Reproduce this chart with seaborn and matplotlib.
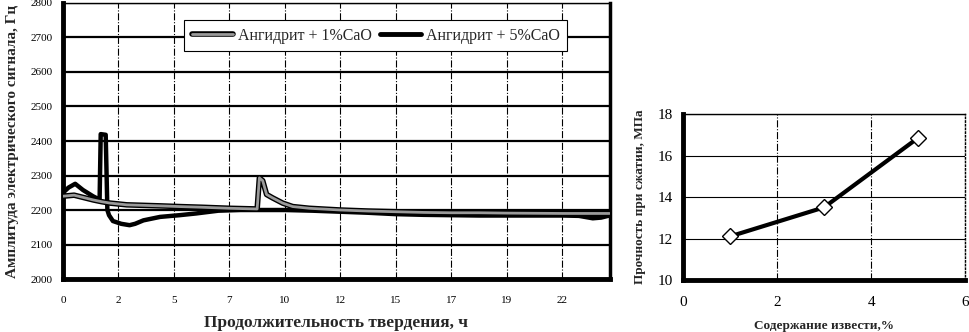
"""
Амплитуда электрического сигнала и прочность ангидрита с добавкой CaO
"""
import matplotlib
matplotlib.use("Agg")
import matplotlib.pyplot as plt
import matplotlib.patheffects as pe
from matplotlib.lines import Line2D
import seaborn as sns
import pandas as pd

sns.set_theme(style="white")
plt.rcParams['font.family'] = ['Liberation Serif', 'DejaVu Serif']

# левый график: ось x в единицах делений (подписи - часы)
x_tick_labels = ['0', '2', '5', '7', '10', '12', '15', '17', '19', '22']
y_ticks_left = [2000, 2100, 2200, 2300, 2400, 2500, 2600, 2700, 2800]

# Ангидрит + 1%CaO
t_1 = [0.0, 0.2, 0.55, 0.7, 0.85, 1.15, 1.75, 2.1, 2.5, 3.0, 3.5, 3.54, 3.6,
       3.67, 3.78, 3.96, 4.14, 4.44, 5.0, 5.5, 6.0, 6.5, 7.0, 7.5, 8.0, 9.0, 9.85]
a_1 = [2240, 2243, 2229, 2224, 2220, 2215, 2212, 2210, 2208, 2205, 2203, 2293, 2285,
       2245, 2235, 2220, 2210, 2205, 2200, 2197, 2195, 2193, 2192, 2192, 2191, 2190, 2190]

# Ангидрит + 5%CaO
t_5 = [0.0, 0.1, 0.22, 0.36, 0.54, 0.66, 0.68, 0.77, 0.8, 0.83, 0.9, 1.05, 1.2,
       1.3, 1.45, 1.75, 2.1, 2.4, 2.8, 3.2, 3.6, 4.0, 4.5, 5.0, 5.5, 6.0, 6.5,
       7.0, 7.5, 8.0, 9.0, 9.3, 9.55, 9.7, 9.85]
a_5 = [2250, 2265, 2276, 2258, 2240, 2230, 2420, 2418, 2200, 2185, 2168, 2160, 2156,
       2160, 2170, 2180, 2185, 2190, 2198, 2200, 2200, 2200, 2198, 2195, 2192, 2188, 2186,
       2185, 2184, 2184, 2184, 2183, 2176, 2178, 2184]

# правый график
lime = [1, 3, 5]
strength = [12.1, 13.5, 16.85]

df1 = pd.DataFrame({'t': t_1, 'a': a_1})
df5 = pd.DataFrame({'t': t_5, 'a': a_5})
dfs = pd.DataFrame({'c': lime, 's': strength})

fig = plt.figure(figsize=(9.69, 3.32), dpi=100)
ax = fig.add_axes([0.065, 0.1596, 0.5645, 0.8314])
ax2 = fig.add_axes([0.7048, 0.1566, 0.2912, 0.5])

# --- левый график ---
sns.lineplot(data=df5, x='t', y='a', ax=ax, color='black', lw=3.2,
             estimator=None, sort=False, zorder=3)
sns.lineplot(data=df1, x='t', y='a', ax=ax, color='#9a9a9a', lw=2.0,
             estimator=None, sort=False, zorder=4,
             path_effects=[pe.Stroke(linewidth=4.0, foreground='black'), pe.Normal()])

ax.set_xlim(0, 9.86)
ax.set_ylim(2000, 2800)
ax.set_xticks(range(len(x_tick_labels)))
ax.set_xticklabels(x_tick_labels)
ax.set_yticks(y_ticks_left)
ax.tick_params(axis='both', labelsize=8, length=3, width=2, direction='inout',
               colors='black', pad=6)
ax.tick_params(axis='x', pad=11)
ax.yaxis.grid(True, color='black', lw=1.6)
ax.xaxis.grid(True, color='black', lw=0.8, linestyle='-.')
ax.set_axisbelow(True)
for s in ['left', 'bottom']:
    ax.spines[s].set_linewidth(3.5)
ax.spines['right'].set_linewidth(2.5)
ax.spines['top'].set_linewidth(1.0)
for s in ax.spines.values():
    s.set_color('black')
ax.set_xlabel('Продолжительность твердения, ч', fontsize=12.5,
              fontweight='bold', labelpad=7)
ax.set_ylabel('Амплитуда электрического сигнала, Гц', fontsize=11,
              fontweight='bold', labelpad=8)

handles = [
    Line2D([], [], color='#9a9a9a', lw=2.0,
           path_effects=[pe.Stroke(linewidth=4.0, foreground='black'), pe.Normal()]),
    Line2D([], [], color='black', lw=3.5),
]
leg = ax.legend(handles, ['Ангидрит + 1%CaO', 'Ангидрит + 5%CaO'], ncol=2,
                loc='upper center', bbox_to_anchor=(0.572, 0.966), fontsize=11.5,
                frameon=True, fancybox=False, framealpha=1, edgecolor='black',
                handlelength=2.6, handletextpad=0.3, columnspacing=0.5,
                borderpad=0.45)
leg.get_frame().set_linewidth(0.8)

# --- правый график ---
sns.lineplot(data=dfs, x='c', y='s', ax=ax2, color='black', lw=3.0,
             marker='D', markersize=8, markerfacecolor='white',
             markeredgecolor='black', markeredgewidth=1.0, zorder=3)
ax2.set_xlim(0, 6)
ax2.set_ylim(10, 18)
ax2.set_xticks([0, 2, 4, 6])
ax2.set_yticks([10, 12, 14, 16, 18])
ax2.tick_params(axis='both', labelsize=11, length=3, width=2, direction='inout',
                colors='black', pad=6)
ax2.tick_params(axis='x', pad=10)
ax2.yaxis.grid(True, color='black', lw=0.8)
ax2.xaxis.grid(True, color='black', lw=0.8, linestyle='-.')
ax2.set_axisbelow(True)
for s in ['left', 'bottom']:
    ax2.spines[s].set_linewidth(3.5)
ax2.spines['top'].set_linewidth(1.0)
ax2.spines['right'].set_linewidth(1.0)
ax2.spines['right'].set_linestyle(':')
for s in ax2.spines.values():
    s.set_color('black')
ax2.set_xlabel('Содержание извести,%', fontsize=9.5, fontweight='bold', labelpad=8)
ax2.set_ylabel('Прочность при сжатии, МПа', fontsize=9.5, fontweight='bold',
               labelpad=8)

fig.savefig('out.png', dpi=100)
